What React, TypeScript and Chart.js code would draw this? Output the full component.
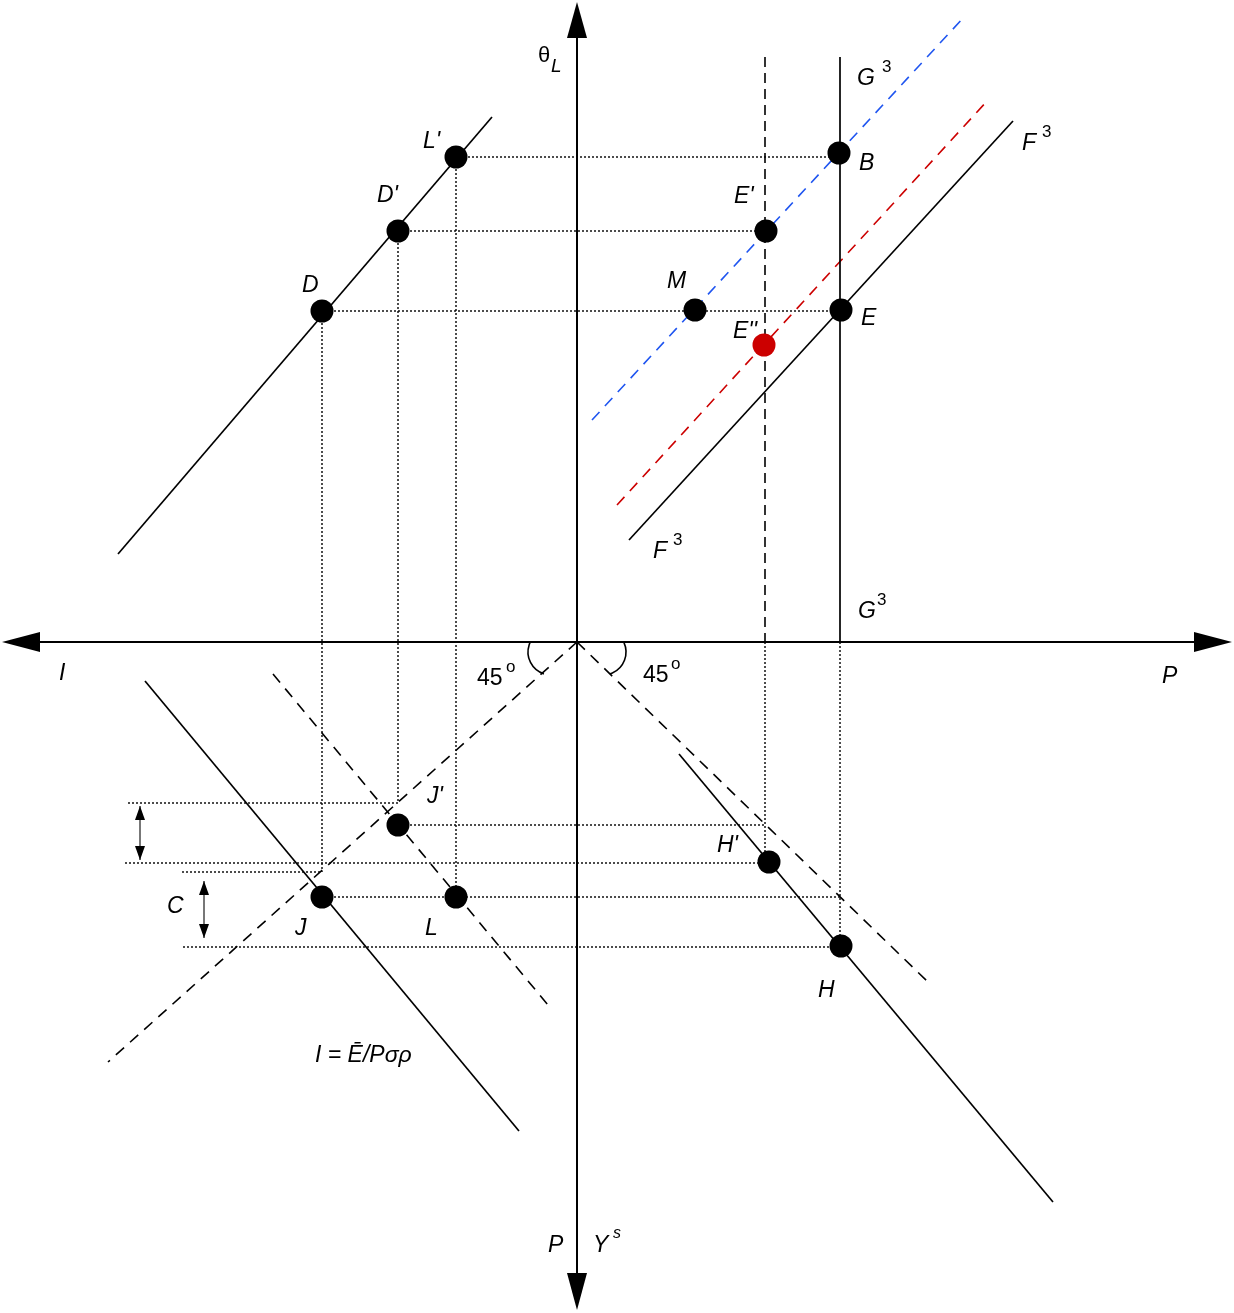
import React, { useEffect, useRef } from "react";
import { Chart, registerables } from "chart.js";

Chart.register(...registerables);

type Pt = { x: number; y: number };

// Coordinates are measured from the axes origin (theta_L / P intersection).
// ---------- axes ----------
const axisH: Pt[] = [{ x: -560, y: 0 }, { x: 640, y: 0 }];
const axisV: Pt[] = [{ x: 0, y: 620 }, { x: 0, y: -650 }];
const axisArrowTips: Pt[] = [{ x: -575, y: 0 }, { x: 655, y: 0 }, { x: 0, y: 640 }, { x: 0, y: -668 }];
const axisArrowBases: Pt[] = [{ x: -537, y: 0 }, { x: 617, y: 0 }, { x: 0, y: 604 }, { x: 0, y: -631 }];

// ---------- solid curves ----------
const lineUpperLeft: Pt[] = [{ x: -459, y: 88 }, { x: -85, y: 525 }];
const lineF3: Pt[] = [{ x: 52, y: 102 }, { x: 436, y: 521 }];
const lineG3: Pt[] = [{ x: 263, y: 585 }, { x: 263, y: 0 }];
const lineIncome: Pt[] = [{ x: -432, y: -39 }, { x: -58, y: -489 }];
const lineLowerRight: Pt[] = [{ x: 102, y: -112 }, { x: 476, y: -560 }];

// ---------- dashed curves ----------
const lineBlue: Pt[] = [{ x: 15, y: 222 }, { x: 388, y: 626 }];
const lineRed: Pt[] = [{ x: 40, y: 137 }, { x: 411, y: 542 }];
const lineVertE: Pt[] = [{ x: 188, y: 585 }, { x: 188, y: 0 }];
const line45Left: Pt[] = [{ x: 0, y: 0 }, { x: -469, y: -420 }];
const line45Right: Pt[] = [{ x: 0, y: 0 }, { x: 351, y: -340 }];
const lineLowerLeftDash: Pt[] = [{ x: -304, y: -32 }, { x: -29, y: -363 }];

// ---------- dotted guides ----------
const dottedGuides: Pt[][] = [
  [{ x: -121, y: 485 }, { x: 262, y: 485 }],
  [{ x: -179, y: 411 }, { x: 189, y: 411 }],
  [{ x: -255, y: 331 }, { x: 264, y: 331 }],
  [{ x: -449, y: -161 }, { x: -179, y: -161 }],
  [{ x: -179, y: -183 }, { x: 188, y: -183 }],
  [{ x: -452, y: -221 }, { x: 192, y: -221 }],
  [{ x: -395, y: -230 }, { x: -255, y: -230 }],
  [{ x: -255, y: -255 }, { x: 263, y: -255 }],
  [{ x: -394, y: -305 }, { x: 264, y: -305 }],
  [{ x: -255, y: 331 }, { x: -255, y: -230 }],
  [{ x: -179, y: 411 }, { x: -179, y: -161 }],
  [{ x: -121, y: 485 }, { x: -121, y: -255 }],
  [{ x: 188, y: 0 }, { x: 188, y: -220 }],
  [{ x: 263, y: 0 }, { x: 263, y: -304 }],
];

// ---------- equilibrium points ----------
const blackPoints: Pt[] = [
  { x: -121, y: 485 }, // L'
  { x: -179, y: 411 }, // D'
  { x: -255, y: 331 }, // D
  { x: 262, y: 489 }, // B
  { x: 189, y: 411 }, // E'
  { x: 118, y: 332 }, // M
  { x: 264, y: 332 }, // E
  { x: -179, y: -183 }, // J'
  { x: -255, y: -255 }, // J
  { x: -121, y: -255 }, // L
  { x: 192, y: -220 }, // H'
  { x: 264, y: -304 }, // H
];
const redPoints: Pt[] = [{ x: 187, y: 297 }]; // E''

// ---------- small double arrows ----------
const doubleArrowTop: Pt[] = [{ x: -437, y: -164 }, { x: -437, y: -218 }];
const doubleArrowC: Pt[] = [{ x: -373, y: -239 }, { x: -373, y: -296 }];

// ---------- angle arcs (center, radius in px, start/end deg canvas) ----------
const angleArcs = [
  { c: { x: -26, y: -10 }, r: 23, a0: 108, a1: 204 },
  { c: { x: 26, y: -10 }, r: 23, a0: -24, a1: 72 },
];

// ---------- labels (left, baseline) ----------
type Lab = { t: string; x: number; y: number; it: boolean; sz: number };
const labels: Lab[] = [
  { t: "θ", x: -39, y: 580, it: false, sz: 22 },
  { t: "L", x: -26, y: 570, it: true, sz: 19 },
  { t: "L'", x: -154, y: 494, it: true, sz: 23 },
  { t: "D'", x: -200, y: 440, it: true, sz: 23 },
  { t: "D", x: -275, y: 350, it: true, sz: 23 },
  { t: "G", x: 280, y: 557, it: true, sz: 23 },
  { t: "3", x: 305, y: 570, it: false, sz: 17 },
  { t: "B", x: 282, y: 472, it: true, sz: 23 },
  { t: "F", x: 445, y: 492, it: true, sz: 23 },
  { t: "3", x: 465, y: 505, it: false, sz: 17 },
  { t: "E'", x: 157, y: 439, it: true, sz: 23 },
  { t: "M", x: 90, y: 354, it: true, sz: 23 },
  { t: "E", x: 284, y: 317, it: true, sz: 23 },
  { t: "E''", x: 156, y: 304, it: true, sz: 23 },
  { t: "F", x: 76, y: 84, it: true, sz: 23 },
  { t: "3", x: 96, y: 97, it: false, sz: 17 },
  { t: "G", x: 281, y: 24, it: true, sz: 23 },
  { t: "3", x: 300, y: 37, it: false, sz: 17 },
  { t: "I", x: -518, y: -38, it: true, sz: 23 },
  { t: "P", x: 585, y: -41, it: true, sz: 23 },
  { t: "45", x: -100, y: -43, it: false, sz: 23 },
  { t: "o", x: -71, y: -30, it: false, sz: 17 },
  { t: "45", x: 66, y: -40, it: false, sz: 23 },
  { t: "o", x: 94, y: -27, it: false, sz: 17 },
  { t: "J'", x: -150, y: -161, it: true, sz: 23 },
  { t: "H'", x: 140, y: -210, it: true, sz: 23 },
  { t: "C", x: -410, y: -271, it: true, sz: 23 },
  { t: "J", x: -282, y: -293, it: true, sz: 23 },
  { t: "L", x: -152, y: -293, it: true, sz: 23 },
  { t: "H", x: 241, y: -355, it: true, sz: 23 },
  { t: "I = Ē/Pσρ", x: -262, y: -420, it: true, sz: 23 },
  { t: "P", x: -29, y: -610, it: true, sz: 23 },
  { t: "Y", x: 16, y: -610, it: true, sz: 23 },
  { t: "s", x: 36, y: -596, it: true, sz: 16 },
];

const FONT = "'Liberation Sans', Arial, Helvetica, sans-serif";

function lineDs(data: Pt[], color: string, width: number, dash: number[] = []) {
  return {
    data,
    showLine: true,
    borderColor: color,
    borderWidth: width,
    borderDash: dash,
    borderCapStyle: "butt" as const,
    pointRadius: 0,
    pointHoverRadius: 0,
    fill: false,
    tension: 0,
    order: 10,
    clip: false as const,
  };
}

const overlayPlugin = {
  id: "overlay",
  afterDatasetsDraw(chart: any) {
    const ctx: CanvasRenderingContext2D = chart.ctx;
    const xs = chart.scales.x;
    const ys = chart.scales.y;
    const px = (p: Pt) => ({ x: xs.getPixelForValue(p.x), y: ys.getPixelForValue(p.y) });

    const head = (tipP: Pt, baseP: Pt, hw: number) => {
      const t = px(tipP);
      const b = px(baseP);
      const dx = t.x - b.x;
      const dy = t.y - b.y;
      const len = Math.hypot(dx, dy) || 1;
      const nx = -dy / len;
      const ny = dx / len;
      ctx.beginPath();
      ctx.moveTo(t.x, t.y);
      ctx.lineTo(b.x + nx * hw, b.y + ny * hw);
      ctx.lineTo(b.x - nx * hw, b.y - ny * hw);
      ctx.closePath();
      ctx.fill();
    };

    ctx.save();
    ctx.fillStyle = "#000";
    axisArrowTips.forEach((tip, i) => head(tip, axisArrowBases[i], 10));

    // small double arrows
    [doubleArrowTop, doubleArrowC].forEach((arr) => {
      const [a, b] = arr;
      head(a, { x: a.x, y: a.y - 14 }, 5);
      head(b, { x: b.x, y: b.y + 14 }, 5);
    });

    // angle arcs
    ctx.strokeStyle = "#000";
    ctx.lineWidth = 1.6;
    angleArcs.forEach((arc) => {
      const c = px(arc.c);
      ctx.beginPath();
      ctx.arc(c.x, c.y, arc.r, (arc.a0 * Math.PI) / 180, (arc.a1 * Math.PI) / 180);
      ctx.stroke();
    });

    // labels
    ctx.fillStyle = "#000";
    ctx.textAlign = "left";
    ctx.textBaseline = "alphabetic";
    labels.forEach((l) => {
      const p = px(l);
      ctx.font = `${l.it ? "italic " : ""}${l.sz}px ${FONT}`;
      ctx.fillText(l.t, p.x, p.y);
    });
    ctx.restore();
  },
};

export default function App() {
  const ref = useRef<HTMLCanvasElement | null>(null);

  useEffect(() => {
    if (!ref.current) return;
    const datasets: any[] = [
      lineDs(axisH, "#000", 2),
      lineDs(axisV, "#000", 2),
      lineDs(lineUpperLeft, "#000", 1.7),
      lineDs(lineF3, "#000", 1.7),
      lineDs(lineG3, "#000", 1.7),
      lineDs(lineIncome, "#000", 1.7),
      lineDs(lineLowerRight, "#000", 1.7),
      lineDs(lineBlue, "#1f55f0", 1.6, [11, 8]),
      lineDs(lineRed, "#cc0000", 1.6, [11, 8]),
      lineDs(lineVertE, "#000", 1.6, [10, 6]),
      lineDs(line45Left, "#000", 1.6, [11, 8]),
      lineDs(line45Right, "#000", 1.6, [11, 8]),
      lineDs(lineLowerLeftDash, "#000", 1.6, [11, 8]),
      lineDs(doubleArrowTop, "#777", 2),
      lineDs(doubleArrowC, "#777", 2),
      ...dottedGuides.map((g) => lineDs(g, "#000", 1.4, [2, 2])),
      {
        data: blackPoints,
        showLine: false,
        pointRadius: 11.5,
        pointHoverRadius: 11.5,
        pointBackgroundColor: "#000",
        pointBorderColor: "#000",
        pointBorderWidth: 0,
        order: 0,
        clip: false,
      },
      {
        data: redPoints,
        showLine: false,
        pointRadius: 11.5,
        pointHoverRadius: 11.5,
        pointBackgroundColor: "#cc0000",
        pointBorderColor: "#cc0000",
        pointBorderWidth: 0,
        order: 0,
        clip: false,
      },
    ];

    const chart = new Chart(ref.current, {
      type: "scatter",
      data: { datasets },
      options: {
        animation: false,
        responsive: false,
        maintainAspectRatio: false,
        events: [],
        layout: { padding: 0, autoPadding: false },
        plugins: {
          legend: { display: false },
          tooltip: { enabled: false },
          title: { display: false },
        },
        scales: {
          x: { type: "linear", min: -577, max: 657, display: false },
          y: { type: "linear", min: -671, max: 642, display: false },
        },
      },
      plugins: [overlayPlugin],
    });
    return () => chart.destroy();
  }, []);

  return (
    <div style={{ position: "absolute", left: 0, top: 0, width: 1234, height: 1313, background: "#fff" }}>
      <canvas ref={ref} width={1234} height={1313} style={{ width: 1234, height: 1313, display: "block" }} />
    </div>
  );
}
